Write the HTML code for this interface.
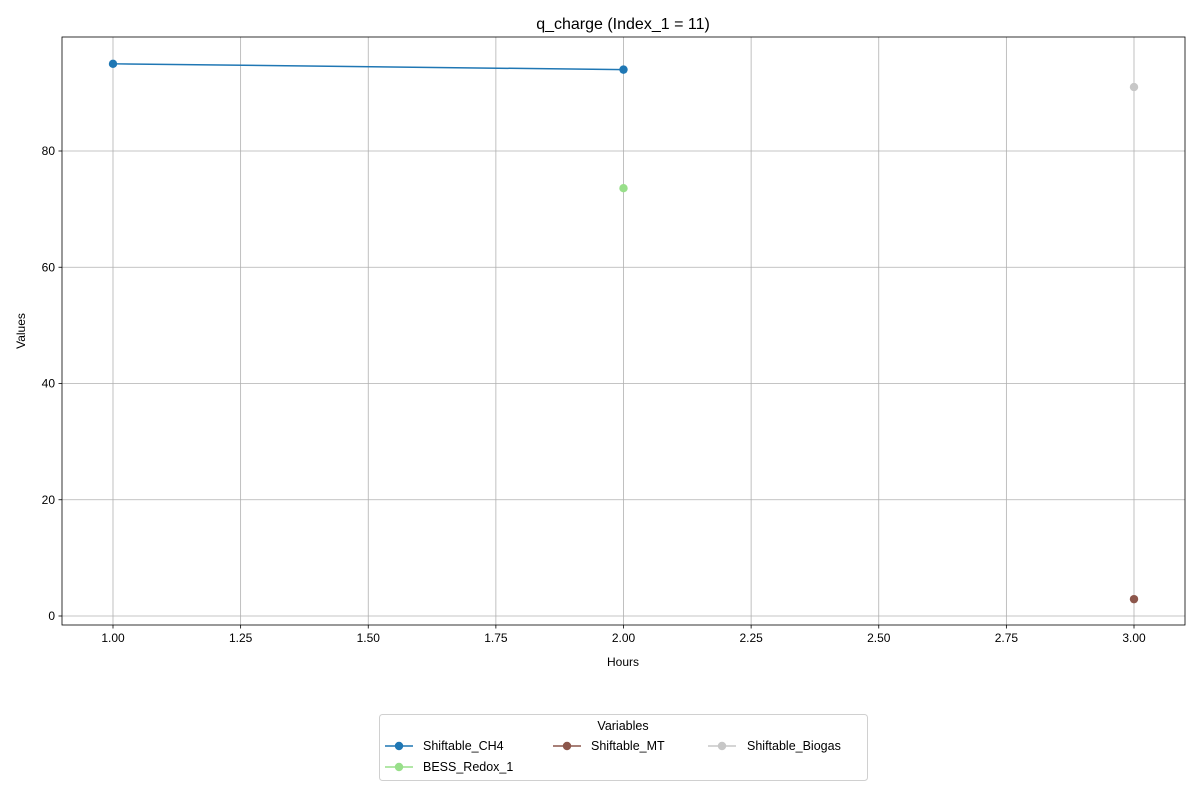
<!DOCTYPE html>
<html><head><meta charset="utf-8">
<style>
html,body{margin:0;padding:0;background:#fff;}
svg{display:block;font-family:"Liberation Sans","DejaVu Sans",sans-serif;}
</style></head>
<body>
<svg id="chart" width="1200" height="800" viewBox="0 0 1200 800"></svg>
<script>
const categoriesHours = [1, 2, 3];
const seriesNames = ["Shiftable_CH4", "BESS_Redox_1", "Shiftable_MT", "Shiftable_Biogas"];
const seriesColors = ["#1f77b4", "#98df8a", "#8c564b", "#c7c7c7"];
const ch4Values = [95, 94, null];
const bessValues = [null, 73.6, null];
const mtValues = [null, null, 2.9];
const biogasValues = [null, null, 91];
const xTicks = [1.00, 1.25, 1.50, 1.75, 2.00, 2.25, 2.50, 2.75, 3.00];
const yTicks = [0, 20, 40, 60, 80];

const NS = "http://www.w3.org/2000/svg";
const svg = document.getElementById("chart");
const L = 62, R = 1185, T = 37, B = 625;
function xs(v){ return 113 + (v - 1) * 510.5; }
function ys(v){ return 616 - v * 5.8125; }
function mk(tag, attrs, parent){
  const e = document.createElementNS(NS, tag);
  for (const k in attrs) e.setAttribute(k, attrs[k]);
  (parent || svg).appendChild(e);
  return e;
}
// grid
const grid = mk("g", {});


xTicks.forEach(t => mk("line", {x1: xs(t), x2: xs(t), y1: T, y2: B, stroke: "#b0b0b0", "stroke-width": 0.8}, grid));
yTicks.forEach(t => mk("line", {x1: L, x2: R, y1: ys(t), y2: ys(t), stroke: "#b0b0b0", "stroke-width": 0.8}, grid));
// ticks and labels
const xAxis = mk("g", {});


xTicks.forEach(t => {
  mk("line", {x1: xs(t), x2: xs(t), y1: B, y2: B + 3.5, stroke: "#000", "stroke-width": 0.8}, xAxis);
  const tx = mk("text", {x: xs(t), y: B + 17, "font-size": 12, "text-anchor": "middle", fill: "#000"}, xAxis);
  tx.textContent = t.toFixed(2);
});
const yAxis = mk("g", {});


yTicks.forEach(t => {
  mk("line", {x1: L, x2: L - 3.5, y1: ys(t), y2: ys(t), stroke: "#000", "stroke-width": 0.8}, yAxis);
  const tx = mk("text", {x: L - 7, y: ys(t) + 4, "font-size": 12, "text-anchor": "end", fill: "#000"}, yAxis);
  tx.textContent = String(t);
});
// frame
const frame = mk("rect", {x: L, y: T, width: R - L, height: B - T, fill: "none", stroke: "#000", "stroke-width": 0.8});


// series
const allSeries = [ch4Values, bessValues, mtValues, biogasValues];
allSeries.forEach((vals, i) => {
  const g = mk("g", {});
  
  
  let seg = [];
  const flush = () => {
    if (seg.length > 1) mk("polyline", {points: seg.join(" "), fill: "none", stroke: seriesColors[i], "stroke-width": 1.5}, g);
    seg = [];
  };
  vals.forEach((v, j) => {
    if (v === null) { flush(); return; }
    seg.push(xs(categoriesHours[j]) + "," + ys(v));
  });
  flush();
  vals.forEach((v, j) => {
    if (v === null) return;
    const c = mk("circle", {cx: xs(categoriesHours[j]), cy: ys(v), r: 4.2, fill: seriesColors[i]}, g);
    
    
  });
});
</script>
<svg style="position:absolute;left:0;top:0" width="1200" height="800">
  <text x="623" y="29" font-size="16" text-anchor="middle" fill="#000" font-family="Liberation Sans, sans-serif">q_charge (Index_1 = 11)</text>
  <text x="623" y="666" font-size="12" text-anchor="middle" fill="#000" font-family="Liberation Sans, sans-serif">Hours</text>
  <text x="25" y="331" font-size="12" text-anchor="middle" fill="#000" font-family="Liberation Sans, sans-serif" transform="rotate(-90 25 331)">Values</text>
  <g font-family="Liberation Sans, sans-serif" font-size="12.5">
    <rect x="379.5" y="714.5" width="488" height="66" rx="3" fill="#fff" stroke="#d0d0d0"/>
    <text x="623" y="730" text-anchor="middle" fill="#000">Variables</text>
    <g>
      <line x1="385" x2="413" y1="746" y2="746" stroke="#1f77b4" stroke-width="1.5"/><circle cx="399" cy="746" r="4.2" fill="#1f77b4"/>
      <text x="423" y="750" fill="#000">Shiftable_CH4</text></g>
    <g>
      <line x1="385" x2="413" y1="767" y2="767" stroke="#98df8a" stroke-width="1.5"/><circle cx="399" cy="767" r="4.2" fill="#98df8a"/>
      <text x="423" y="771" fill="#000">BESS_Redox_1</text></g>
    <g>
      <line x1="553" x2="581" y1="746" y2="746" stroke="#8c564b" stroke-width="1.5"/><circle cx="567" cy="746" r="4.2" fill="#8c564b"/>
      <text x="591" y="750" fill="#000">Shiftable_MT</text></g>
    <g>
      <line x1="708" x2="736" y1="746" y2="746" stroke="#c7c7c7" stroke-width="1.5"/><circle cx="722" cy="746" r="4.2" fill="#c7c7c7"/>
      <text x="747" y="750" fill="#000">Shiftable_Biogas</text></g>
  </g>
</svg>
</body></html>
